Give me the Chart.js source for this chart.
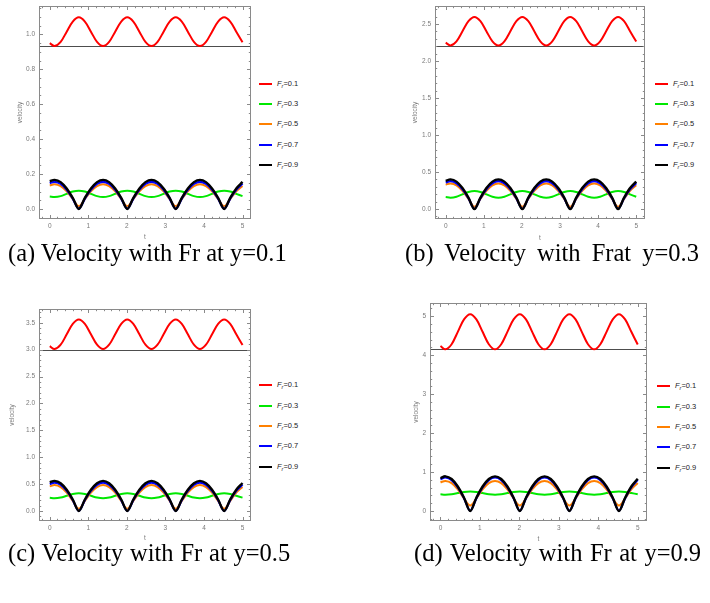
<!DOCTYPE html>
<html><head><meta charset="utf-8">
<script src="https://cdn.jsdelivr.net/npm/chart.js@4.4.1/dist/chart.umd.min.js"></script>
<style>
html,body{margin:0;padding:0;background:#fff;}
body{width:710px;height:603px;position:relative;overflow:hidden;}
.cw{position:absolute;}
.lg{position:absolute;font-family:"Liberation Sans",Arial,sans-serif;font-size:7.5px;color:#222;white-space:nowrap;}
.lg .ln{position:absolute;height:2px;width:13px;}
.lg .tx{position:absolute;line-height:10px;}
.lg sub{font-size:5.5px;vertical-align:-1.5px;line-height:0;}
.cap{position:absolute;font-family:"Liberation Serif","Times New Roman",serif;font-size:24.5px;line-height:28px;color:#000;white-space:nowrap;}
</style></head><body>
<script>
// ---------- data ----------
const tValues = [0, 0.126, 0.283, 0.440, 0.597, 0.754, 0.911, 1.068, 1.226, 1.383, 1.540, 1.697, 1.854, 2.011, 2.168, 2.325, 2.482, 2.639, 2.796, 2.953, 3.110, 3.268, 3.425, 3.582, 3.739, 3.896, 4.053, 4.210, 4.367, 4.524, 4.681, 4.838, 5.0];

const seriesNames = ['0.1', '0.3', '0.5', '0.7', '0.9'];
const xTickValues = [0, 1, 2, 3, 4, 5];
const yTicksA = [0, 0.2, 0.4, 0.6, 0.8, 1.0];
const yTicksB = [0, 0.5, 1.0, 1.5, 2.0, 2.5];
const yTicksC = [0, 0.5, 1.0, 1.5, 2.0, 2.5, 3.0, 3.5];
const yTicksD = [0, 1, 2, 3, 4, 5];
const axisOriginY = [0.931, 2.20, 3.00, 4.15];
const captions = ['(a) Velocity with Fr at y=0.1', '(b) Velocity with Frat y=0.3', '(c) Velocity with Fr at y=0.5', '(d) Velocity with Fr at y=0.9'];
const xTitle = 't';
const yTitle = 'velocity';

// (a) y = 0.1
const velA_Fr01 = [0.949, 0.933,0.957,1.015,1.073,1.097,1.073,1.015,0.957, 0.933,0.957,1.015,1.073,1.097,1.073,1.015,0.957, 0.933,0.957,1.015,1.073,1.097,1.073,1.015,0.957, 0.933,0.957,1.015,1.073,1.097,1.073,1.015, 0.955];
const velA_Fr03 = [0.072, 0.069,0.074,0.087,0.100,0.105,0.100,0.087,0.074, 0.069,0.074,0.087,0.100,0.105,0.100,0.087,0.074, 0.069,0.074,0.087,0.100,0.105,0.100,0.087,0.074, 0.069,0.074,0.087,0.100,0.105,0.100,0.087, 0.074];
const velA_Fr05 = [0.135, 0.142,0.131,0.101,0.057,0.017,0.057,0.101,0.131, 0.142,0.131,0.101,0.057,0.017,0.057,0.101,0.131, 0.142,0.131,0.101,0.057,0.017,0.057,0.101,0.131, 0.142,0.131,0.101,0.057,0.017,0.057,0.101, 0.132];
const velA_Fr07 = [0.148, 0.156,0.144,0.110,0.060,0.002,0.060,0.110,0.144, 0.156,0.144,0.110,0.060,0.002,0.060,0.110,0.144, 0.156,0.144,0.110,0.060,0.002,0.060,0.110,0.144, 0.156,0.144,0.110,0.060,0.002,0.060,0.110, 0.145];
const velA_Fr09 = [0.159, 0.167,0.154,0.118,0.064,0.000,0.064,0.118,0.154, 0.167,0.154,0.118,0.064,0.000,0.064,0.118,0.154, 0.167,0.154,0.118,0.064,0.000,0.064,0.118,0.154, 0.167,0.154,0.118,0.064,0.000,0.064,0.118, 0.155];

// (b) y = 0.3
const velB_Fr01 = [2.247, 2.210,2.266,2.402,2.538,2.594,2.538,2.402,2.266, 2.210,2.266,2.402,2.538,2.594,2.538,2.402,2.266, 2.210,2.266,2.402,2.538,2.594,2.538,2.402,2.266, 2.210,2.266,2.402,2.538,2.594,2.538,2.402, 2.262];
const velB_Fr03 = [0.162, 0.153,0.166,0.198,0.230,0.243,0.230,0.198,0.166, 0.153,0.166,0.198,0.230,0.243,0.230,0.198,0.166, 0.153,0.166,0.198,0.230,0.243,0.230,0.198,0.166, 0.153,0.166,0.198,0.230,0.243,0.230,0.198, 0.165];
const velB_Fr05 = [0.329, 0.346,0.320,0.246,0.136,0.030,0.136,0.246,0.320, 0.346,0.320,0.246,0.136,0.030,0.136,0.246,0.320, 0.346,0.320,0.246,0.136,0.030,0.136,0.246,0.320, 0.346,0.320,0.246,0.136,0.030,0.136,0.246, 0.322];
const velB_Fr07 = [0.358, 0.377,0.348,0.267,0.145,0.003,0.145,0.267,0.348, 0.377,0.348,0.267,0.145,0.003,0.145,0.267,0.348, 0.377,0.348,0.267,0.145,0.003,0.145,0.267,0.348, 0.377,0.348,0.267,0.145,0.003,0.145,0.267, 0.350];
const velB_Fr09 = [0.380, 0.400,0.370,0.283,0.153,0.000,0.153,0.283,0.370, 0.400,0.370,0.283,0.153,0.000,0.153,0.283,0.370, 0.400,0.370,0.283,0.153,0.000,0.153,0.283,0.370, 0.400,0.370,0.283,0.153,0.000,0.153,0.283, 0.371];

// (c) y = 0.5
const velC_Fr01 = [3.063, 3.010,3.091,3.285,3.479,3.560,3.479,3.285,3.091, 3.010,3.091,3.285,3.479,3.560,3.479,3.285,3.091, 3.010,3.091,3.285,3.479,3.560,3.479,3.285,3.091, 3.010,3.091,3.285,3.479,3.560,3.479,3.285, 3.085];
const velC_Fr03 = [0.245, 0.235,0.249,0.283,0.316,0.330,0.316,0.283,0.249, 0.235,0.249,0.283,0.316,0.330,0.316,0.283,0.249, 0.235,0.249,0.283,0.316,0.330,0.316,0.283,0.249, 0.235,0.249,0.283,0.316,0.330,0.316,0.283, 0.248];
const velC_Fr05 = [0.458, 0.482,0.445,0.342,0.188,0.040,0.188,0.342,0.445, 0.482,0.445,0.342,0.188,0.040,0.188,0.342,0.445, 0.482,0.445,0.342,0.188,0.040,0.188,0.342,0.445, 0.482,0.445,0.342,0.188,0.040,0.188,0.342, 0.447];
const velC_Fr07 = [0.501, 0.527,0.487,0.373,0.202,0.003,0.202,0.373,0.487, 0.527,0.487,0.373,0.202,0.003,0.202,0.373,0.487, 0.527,0.487,0.373,0.202,0.003,0.202,0.373,0.487, 0.527,0.487,0.373,0.202,0.003,0.202,0.373, 0.489];
const velC_Fr09 = [0.533, 0.560,0.517,0.396,0.214,0.000,0.214,0.396,0.517, 0.560,0.517,0.396,0.214,0.000,0.214,0.396,0.517, 0.560,0.517,0.396,0.214,0.000,0.214,0.396,0.517, 0.560,0.517,0.396,0.214,0.000,0.214,0.396, 0.520];

// (d) y = 0.9
const velD_Fr01 = [4.236, 4.150,4.282,4.600,4.918,5.050,4.918,4.600,4.282, 4.150,4.282,4.600,4.918,5.050,4.918,4.600,4.282, 4.150,4.282,4.600,4.918,5.050,4.918,4.600,4.282, 4.150,4.282,4.600,4.918,5.050,4.918,4.600, 4.273];
const velD_Fr03 = [0.428, 0.420,0.432,0.460,0.488,0.500,0.488,0.460,0.432, 0.420,0.432,0.460,0.488,0.500,0.488,0.460,0.432, 0.420,0.432,0.460,0.488,0.500,0.488,0.460,0.432, 0.420,0.432,0.460,0.488,0.500,0.488,0.460, 0.431];
const velD_Fr05 = [0.736, 0.773,0.716,0.555,0.323,0.140,0.323,0.555,0.716, 0.773,0.716,0.555,0.323,0.140,0.323,0.555,0.716, 0.773,0.716,0.555,0.323,0.140,0.323,0.555,0.716, 0.773,0.716,0.555,0.323,0.140,0.323,0.555, 0.719];
const velD_Fr07 = [0.819, 0.860,0.795,0.608,0.329,0.005,0.329,0.608,0.795, 0.860,0.795,0.608,0.329,0.005,0.329,0.608,0.795, 0.860,0.795,0.608,0.329,0.005,0.329,0.608,0.795, 0.860,0.795,0.608,0.329,0.005,0.329,0.608, 0.799];
const velD_Fr09 = [0.846, 0.890,0.822,0.629,0.341,0.000,0.341,0.629,0.822, 0.890,0.822,0.629,0.341,0.000,0.341,0.629,0.822, 0.890,0.822,0.629,0.341,0.000,0.341,0.629,0.822, 0.890,0.822,0.629,0.341,0.000,0.341,0.629, 0.826];

// ---------- styling / layout ----------
const seriesColors = ['#ff0000', '#00e800', '#ff8000', '#0000ff', '#000000'];
const seriesWidths = [2, 2, 2, 2.2, 2.4];

const panels = [
  { series: [velA_Fr01, velA_Fr03, velA_Fr05, velA_Fr07, velA_Fr09], yTicks: yTicksA, dec: 1,
    frame: {l: 39, t: 6, r: 251, b: 219}, xr: [-0.279, 5.22], yr: [-0.057, 1.162], yMinor: 0.05, xMinor: 0.2,
    yTitleD: 19, xTitleE: 18.3, legend: {x: 259, y: [83.7, 104, 124.3, 144.5, 165]}, cap: {x: 8, y: 239, ws: 0} },
  { series: [velB_Fr01, velB_Fr03, velB_Fr05, velB_Fr07, velB_Fr09], yTicks: yTicksB, dec: 1,
    frame: {l: 435, t: 6, r: 645, b: 219}, xr: [-0.281, 5.23], yr: [-0.135, 2.743], yMinor: 0.1, xMinor: 0.2,
    yTitleD: 19.5, xTitleE: 18.8, legend: {x: 655, y: [83.5, 104, 124.3, 144.5, 165]}, cap: {x: 405, y: 239, ws: 5} },
  { series: [velC_Fr01, velC_Fr03, velC_Fr05, velC_Fr07, velC_Fr09], yTicks: yTicksC, dec: 1,
    frame: {l: 39, t: 309, r: 251, b: 521}, xr: [-0.279, 5.22], yr: [-0.186, 3.755], yMinor: 0.1, xMinor: 0.2,
    yTitleD: 27, xTitleE: 17.5, legend: {x: 259, y: [385, 405.5, 426, 446.3, 466.5]}, cap: {x: 8, y: 539, ws: 0.7} },
  { series: [velD_Fr01, velD_Fr03, velD_Fr05, velD_Fr07, velD_Fr09], yTicks: yTicksD, dec: 0,
    frame: {l: 430, t: 303, r: 647, b: 521}, xr: [-0.265, 5.235], yr: [-0.257, 5.34], yMinor: 0.2, xMinor: 0.2,
    yTitleD: 14, xTitleE: 18.3, legend: {x: 657, y: [386, 406.5, 427, 447.3, 467.5]}, cap: {x: 414, y: 539, ws: 1.4} }
];

const frameColor = '#8a8a8a';
const labelColor = '#7a7a7a';
const axisLineColor = '#4d4d4d';
const tickFont = {family: '"Liberation Sans", Arial, sans-serif', size: 6.5};

const framePlugin = {
  id: 'mframe',
  beforeDatasetsDraw(chart, args, opts) {
    const {ctx, chartArea: a, scales: {y}} = chart;
    const yy = Math.round(y.getPixelForValue(opts.axisY)) + 0.5;
    ctx.save();
    ctx.strokeStyle = axisLineColor; ctx.lineWidth = 1.2;
    ctx.beginPath(); ctx.moveTo(a.left, yy); ctx.lineTo(a.right, yy); ctx.stroke();
    ctx.restore();
  },
  afterDraw(chart, args, opts) {
    const {ctx, chartArea: a, scales: {x, y}} = chart;
    ctx.save();
    ctx.strokeStyle = frameColor; ctx.lineWidth = 1;
    ctx.strokeRect(a.left + 0.5, a.top + 0.5, a.right - a.left - 1, a.bottom - a.top - 1);
    const major = 4, minor = 2.2;
    ctx.beginPath();
    const xMajor = x.ticks.map(t => t.value);
    const yMajor = y.ticks.map(t => t.value);
    const near = (arr, v) => arr.some(m => Math.abs(m - v) < 1e-6);
    for (let v = Math.ceil(x.min / opts.xMinor) * opts.xMinor; v <= x.max + 1e-9; v += opts.xMinor) {
      const vv = Math.round(v * 1e6) / 1e6;
      const len = near(xMajor, vv) ? major : minor;
      const px = Math.round(x.getPixelForValue(vv)) + 0.5;
      ctx.moveTo(px, a.bottom); ctx.lineTo(px, a.bottom - len);
      ctx.moveTo(px, a.top); ctx.lineTo(px, a.top + len);
    }
    for (let v = Math.ceil(y.min / opts.yMinor) * opts.yMinor; v <= y.max + 1e-9; v += opts.yMinor) {
      const vv = Math.round(v * 1e6) / 1e6;
      const len = near(yMajor, vv) ? major : minor;
      const py = Math.round(y.getPixelForValue(vv)) + 0.5;
      ctx.moveTo(a.left, py); ctx.lineTo(a.left + len, py);
      ctx.moveTo(a.right, py); ctx.lineTo(a.right - len, py);
    }
    ctx.stroke();
    ctx.restore();
  }
};

const yAxisW = 40, padTop = 4, xAxisH = 27, padRight = 4;

panels.forEach((p, pi) => {
  const fw = p.frame.r - p.frame.l, fh = p.frame.b - p.frame.t;
  const W = yAxisW + fw + padRight, H = padTop + fh + xAxisH;
  const wrap = document.createElement('div');
  wrap.className = 'cw';
  wrap.style.left = (p.frame.l - yAxisW) + 'px';
  wrap.style.top = (p.frame.t - padTop) + 'px';
  wrap.style.width = W + 'px'; wrap.style.height = H + 'px';
  const cv = document.createElement('canvas');
  cv.width = W; cv.height = H; cv.style.width = W + 'px'; cv.style.height = H + 'px';
  wrap.appendChild(cv);
  document.body.appendChild(wrap);

  const datasets = p.series.map((vals, i) => ({
    label: 'F_r=' + seriesNames[i],
    data: tValues.map((t, j) => ({x: t, y: vals[j]})),
    borderColor: seriesColors[i],
    backgroundColor: seriesColors[i],
    borderWidth: seriesWidths[i],
    pointRadius: 0,
    tension: 0.33,
    fill: false,
    order: 4 - i
  }));

  const chart = new Chart(cv, {
    type: 'line',
    data: {datasets},
    plugins: [framePlugin],
    options: {
      responsive: false, animation: false, devicePixelRatio: 1,
      layout: {padding: {top: padTop, right: padRight, left: 0, bottom: 0}},
      plugins: {
        legend: {display: false}, tooltip: {enabled: false},
        mframe: {axisY: axisOriginY[pi], xMinor: p.xMinor, yMinor: p.yMinor}
      },
      scales: {
        x: {
          type: 'linear', min: p.xr[0], max: p.xr[1],
          afterFit: s => { s.height = xAxisH; s.paddingLeft = 0; s.paddingRight = 0; },
          afterBuildTicks: s => { s.ticks = xTickValues.map(v => ({value: v})); },
          grid: {display: false, drawTicks: false}, border: {display: false},
          ticks: {font: tickFont, color: labelColor, padding: 3, maxRotation: 0, autoSkip: false, callback: v => String(v)},
          title: {display: true, text: xTitle, font: tickFont, color: labelColor, padding: {top: 0, bottom: xAxisH - 3.9 - p.xTitleE}}
        },
        y: {
          type: 'linear', min: p.yr[0], max: p.yr[1],
          afterFit: s => { s.width = yAxisW; s.paddingTop = 0; s.paddingBottom = 0; },
          afterBuildTicks: s => { s.ticks = p.yTicks.map(v => ({value: v})); },
          grid: {display: false, drawTicks: false}, border: {display: false},
          ticks: {font: tickFont, color: labelColor, padding: 4, autoSkip: false, callback: v => Number(v).toFixed(p.dec)},
          title: {display: true, text: yTitle, font: tickFont, color: labelColor, padding: {top: yAxisW - p.yTitleD - 3.9, bottom: 0}}
        }
      }
    }
  });

  // legend built from the chart's datasets
  const lg = document.createElement('div');
  lg.className = 'lg';
  lg.style.left = p.legend.x + 'px'; lg.style.top = '0px';
  chart.data.datasets.forEach((ds, i) => {
    const yc = p.legend.y[i];
    const ln = document.createElement('div');
    ln.className = 'ln';
    ln.style.left = '0px'; ln.style.top = Math.round(yc - 1) + 'px';
    ln.style.background = ds.borderColor;
    lg.appendChild(ln);
    const tx = document.createElement('div');
    tx.className = 'tx';
    tx.style.left = '18px'; tx.style.top = (yc - 5) + 'px';
    tx.innerHTML = '<i>F</i><sub><i>r</i></sub>=' + seriesNames[i];
    lg.appendChild(tx);
  });
  document.body.appendChild(lg);

  const cap = document.createElement('div');
  cap.className = 'cap';
  cap.style.left = p.cap.x + 'px'; cap.style.top = p.cap.y + 'px';
  cap.style.wordSpacing = p.cap.ws + 'px';
  cap.textContent = captions[pi];
  document.body.appendChild(cap);
});
</script>
</body></html>
